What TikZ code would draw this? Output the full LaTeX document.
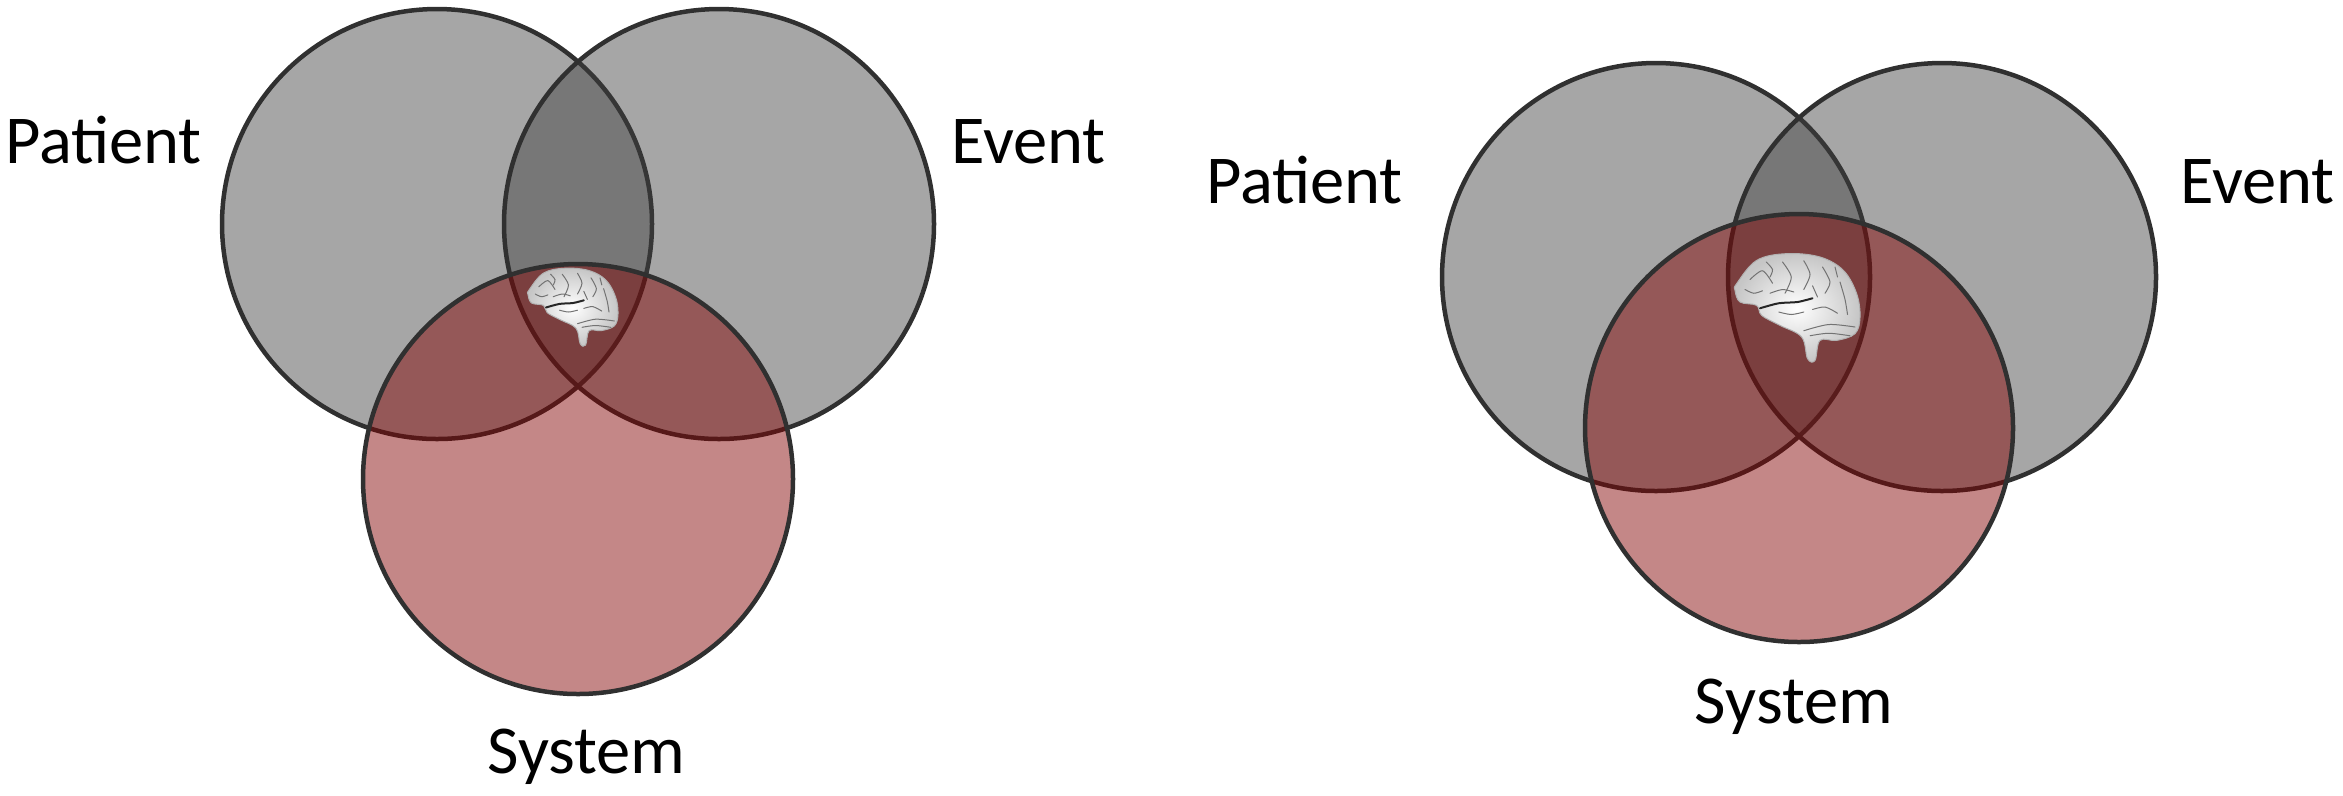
\documentclass[tikz,border=0pt]{standalone}
\usepackage{fontspec}
\setmainfont{Carlito}
\definecolor{setgray}{RGB}{62,62,62}
\definecolor{setred}{RGB}{130,0,0}
\definecolor{linegray}{RGB}{48,48,48}
\definecolor{sulcus}{RGB}{115,115,115}
\tikzset{
  vset/.style={circle, inner sep=0pt, line width=0.45mm, draw=linegray},
  grayset/.style={vset, fill=setgray, fill opacity=0.46},
  redset/.style={vset, fill=setred, fill opacity=0.47},
  lbl/.style={anchor=base, inner sep=0pt, font=\fontsize{19.5}{23}\selectfont},
  brainpic/.pic={
    \shadedraw[inner color=white, outer color=gray!45, draw=gray!60, line width=0.1mm]
      plot[smooth cycle, tension=0.6] coordinates {(0.013,0.253) (0.173,0.067) (0.413,0.013) (0.68,0.04) (0.867,0.147) (0.973,0.333) (1.0,0.52) (0.96,0.653) (0.813,0.707) (0.68,0.707) (0.64,0.867) (0.58,0.853) (0.533,0.68) (0.36,0.587) (0.213,0.507) (0.173,0.427) (0.04,0.4) (0,0.307)};
    \begin{scope}[draw=sulcus, line width=0.1mm, line cap=round]
      \draw[line width=0.2mm, draw=gray!30!black] plot[smooth] coordinates {(0.2,0.45) (0.35,0.41) (0.5,0.40) (0.62,0.37)};
      \draw plot[smooth] coordinates {(0.55,0.63) (0.75,0.58) (0.96,0.60)};
      \draw plot[smooth] coordinates {(0.6,0.67) (0.75,0.65) (0.92,0.67)};
      \draw plot[smooth] coordinates {(0.12,0.22) (0.22,0.15) (0.3,0.25)};
      \draw plot[smooth] coordinates {(0.38,0.08) (0.45,0.2) (0.40,0.33)};
      \draw plot[smooth] coordinates {(0.55,0.07) (0.6,0.18) (0.55,0.3)};
      \draw plot[smooth] coordinates {(0.7,0.12) (0.76,0.24) (0.72,0.33)};
      \draw plot[smooth] coordinates {(0.84,0.24) (0.88,0.38) (0.9,0.5)};
      \draw plot[smooth] coordinates {(0.28,0.33) (0.38,0.30) (0.47,0.32)};
      \draw plot[smooth] coordinates {(0.62,0.46) (0.72,0.44) (0.82,0.49)};
      \draw plot[smooth] coordinates {(0.08,0.30) (0.15,0.33) (0.22,0.31)};
      \draw plot[smooth] coordinates {(0.35,0.48) (0.45,0.50) (0.55,0.48)};
      \draw plot[smooth] coordinates {(0.25,0.08) (0.3,0.14) (0.28,0.2)};
      \draw plot[smooth] coordinates {(0.62,0.27) (0.66,0.36)};
      \draw plot[smooth] coordinates {(0.8,0.12) (0.82,0.2)};
    \end{scope}
  }
}
\begin{document}
\begin{tikzpicture}[x=0.1mm,y=-0.1mm]
\useasboundingbox (0,0) rectangle (2343,795);
% left diagram
\node[grayset, minimum size=43mm] (lp) at (437,224) {};
\node[grayset, minimum size=43mm] (le) at (719,224) {};
\node[redset,  minimum size=43mm] (ls) at (578,479) {};
\pic[scale=90] (lbrain) at (528,267) {brainpic};
\node[lbl] (lpt) at (103.5,163) {Patient};
\node[lbl] (let) at (1028.5,163) {Event};
\node[lbl] (lst) at (586.5,773) {System};
% right diagram
\node[grayset, minimum size=42.8mm] (rp) at (1656,277) {};
\node[grayset, minimum size=42.8mm] (re) at (1942,277) {};
\node[redset,  minimum size=42.8mm] (rs) at (1799,428) {};
\pic[scale=125] (rbrain) at (1735,252) {brainpic};
\node[lbl] (rpt) at (1304.5,203) {Patient};
\node[lbl] (ret) at (2257.5,203) {Event};
\node[lbl] (rst) at (1794,723) {System};
\end{tikzpicture}
\end{document}
